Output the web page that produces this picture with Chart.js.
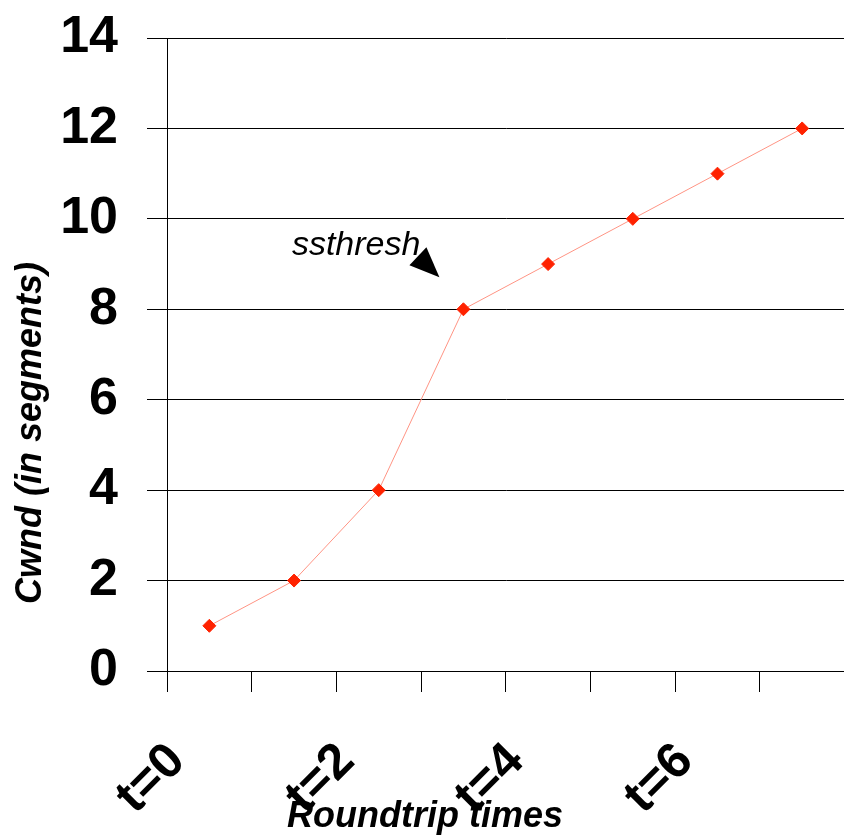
<!DOCTYPE html>
<html>
<head>
<meta charset="utf-8">
<script src="https://cdn.jsdelivr.net/npm/chart.js@4.4.0/dist/chart.umd.min.js"></script>
<style>
html, body { margin: 0; padding: 0; background: #fff; overflow: hidden; }
</style>
</head>
<body>
<canvas id="chartCwnd" width="852" height="836"></canvas>
<script>
const rondas = ['t=0', '', 't=2', '', 't=4', '', 't=6', ''];
const cwnd = [1, 2, 4, 8, 9, 10, 11, 12];
const ticksY = [0, 2, 4, 6, 8, 10, 12, 14];

const fuente = '"Liberation Sans", Arial, sans-serif';

// sin padding extra de las escalas, el area queda fija
function sinPadding(s) {
    s.paddingTop = 0;
    s.paddingBottom = 0;
    s.paddingLeft = 0;
    s.paddingRight = 0;
}

// titulos de ejes y la flecha de ssthresh
const anotaciones = {
    id: 'anotaciones',
    afterDraw(chart) {
        const ctx = chart.ctx;
        const p = chart.getDatasetMeta(0).data[3];
        ctx.save();
        ctx.fillStyle = '#000';

        ctx.font = 'italic 34px ' + fuente;
        ctx.textAlign = 'right';
        ctx.textBaseline = 'alphabetic';
        ctx.fillText('ssthresh', p.x - 43, p.y - 54);

        ctx.beginPath();
        ctx.moveTo(p.x - 24, p.y - 32);
        ctx.lineTo(p.x - 54, p.y - 44);
        ctx.lineTo(p.x - 37, p.y - 62);
        ctx.closePath();
        ctx.fill();

        ctx.font = 'italic bold 36px ' + fuente;
        ctx.textAlign = 'center';
        ctx.fillText('Roundtrip times', 425, 827);

        ctx.translate(31, 433);
        ctx.rotate(-Math.PI / 2);
        ctx.font = 'italic bold 36px ' + fuente;
        ctx.textBaseline = 'middle';
        ctx.fillText('Cwnd (in segments)', 0, 0);
        ctx.restore();
    }
};

new Chart(document.getElementById('chartCwnd'), {
    type: 'line',
    data: {
        labels: rondas,
        datasets: [{
            data: cwnd,
            borderColor: '#ff9484',
            borderWidth: 1,
            pointStyle: 'rectRot',
            pointRadius: 6.5,
            pointBackgroundColor: '#ff2200',
            pointBorderColor: '#ff2200',
            tension: 0
        }]
    },
    options: {
        responsive: false,
        animation: false,
        layout: { padding: { top: 38, right: 3, left: 0, bottom: 0 } },
        plugins: { legend: { display: false }, tooltip: { enabled: false } },
        scales: {
            x: {
                offset: true,
                afterFit: s => { s.height = 165; sinPadding(s); },
                border: { display: true, color: '#000', width: 1 },
                grid: { offset: true, drawOnChartArea: false, drawTicks: true, tickLength: 21, color: '#000' },
                ticks: {
                    autoSkip: false,
                    minRotation: 45,
                    maxRotation: 45,
                    labelOffset: -32,
                    padding: 40,
                    color: '#000',
                    font: { family: fuente, size: 50, weight: 'bold' }
                }
            },
            y: {
                min: 0,
                max: 14,
                afterFit: s => { s.width = 167; sinPadding(s); },
                afterBuildTicks: s => { s.ticks = ticksY.map(v => ({ value: v })); },
                border: { display: true, color: '#000', width: 1 },
                grid: { color: '#000', lineWidth: 1, tickLength: 20, drawTicks: true },
                ticks: {
                    padding: 29,
                    color: '#000',
                    font: { family: fuente, size: 52, weight: 'bold' }
                }
            }
        }
    },
    plugins: [anotaciones]
});
</script>
</body>
</html>
